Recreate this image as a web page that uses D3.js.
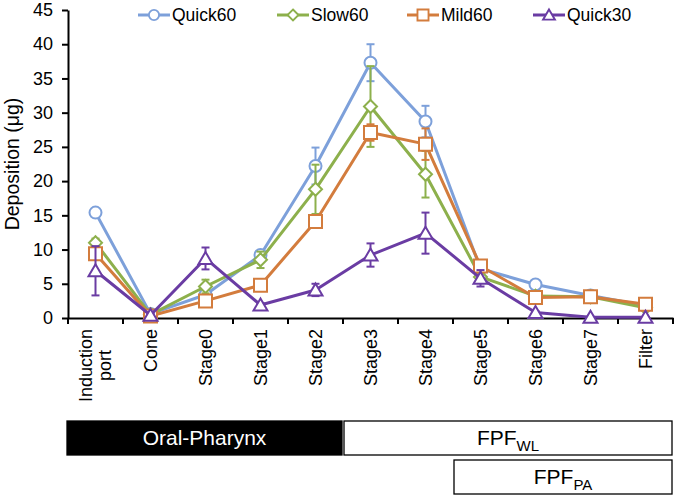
<!DOCTYPE html>
<html>
<head>
<meta charset="utf-8">
<script src="https://cdn.jsdelivr.net/npm/d3@7"></script>
<style>
  body { margin: 0; background: #fff; }
  svg { display: block; font-family: Arial, "Liberation Sans", Helvetica, sans-serif; }
</style>
</head>
<body>
<svg id="chart" width="676" height="496"></svg>
<script>
const categories = ["Induction port","Cone","Stage0","Stage1","Stage2","Stage3","Stage4","Stage5","Stage6","Stage7","Filter"];
const yTicks = [0,5,10,15,20,25,30,35,40,45];
const seriesNames = ["Quick60","Slow60","Mild60","Quick30"];
const quick60 = [15.4,0.6,3.4,9.2,22.2,37.3,28.7,7.2,4.9,3.3,1.8];
const quick60Err = [0.3,0.2,0.3,0.5,2.7,2.7,2.3,0.3,0.6,0.3,0.2];
const slow60 = [11.0,0.5,4.6,8.5,18.8,30.9,21.0,6.0,3.2,3.1,1.5];
const slow60Err = [0.6,0.2,1.0,1.2,3.6,5.9,3.4,0.5,0.4,0.3,0.2];
const mild60 = [9.4,0.3,2.5,4.8,14.1,27.1,25.4,7.6,3.0,3.1,2.0];
const mild60Err = [0.5,0.1,0.3,0.4,0.5,1.2,2.3,0.4,0.3,0.3,0.2];
const quick30 = [6.9,0.4,8.7,1.9,4.1,9.2,12.4,5.8,0.8,0.1,0.1];
const quick30Err = [3.6,0.2,1.6,0.3,0.9,1.7,3.0,1.2,0.2,0.05,0.05];
const yTitle = "Deposition (μg)";
const regions = [
  {label:"Oral-Pharynx", sub:"", from:0, to:4, row:0, dark:true},
  {label:"FPF", sub:"WL", from:5, to:10, row:0, dark:false},
  {label:"FPF", sub:"PA", from:7, to:10, row:1, dark:false}
];

const colors = ["#7DA0DA","#8DB04C","#D37C3D","#6A3CA3"];
const shapes = ["circle","diamond","square","triangle"];
const series = [
  {name:seriesNames[0], values:quick60, err:quick60Err},
  {name:seriesNames[1], values:slow60, err:slow60Err},
  {name:seriesNames[2], values:mild60, err:mild60Err},
  {name:seriesNames[3], values:quick30, err:quick30Err}
];

const svg = d3.select("#chart");
const mLeft = 68, mRight = 673, mTop = 10, mBottom = 318;
const x = d3.scaleBand().domain(categories).range([mLeft, mRight]).padding(0);
const y = d3.scaleLinear().domain([0,45]).range([mBottom, mTop]);
const cx = c => x(c) + x.bandwidth()/2;

function markerPath(shape) {
  switch (shape) {
    case "circle": return d3.symbol(d3.symbolCircle, Math.PI*6*6)();
    case "square": return "M-6.5,-6.5H6.5V6.5H-6.5Z";
    case "diamond": return "M0,-6.5L6.5,0L0,6.5L-6.5,0Z";
    case "triangle": return "M0,-6.5L7,5.5L-7,5.5Z";
  }
}

// Axes
const yAxis = svg.append("g").attr("transform", `translate(${mLeft},0)`)
  .call(d3.axisLeft(y).tickValues(yTicks).tickSize(6).tickSizeOuter(0).tickPadding(9));
yAxis.select(".domain").attr("stroke","#000").attr("stroke-width",2);
yAxis.selectAll(".tick line").attr("stroke","#000").attr("stroke-width",2);
yAxis.selectAll(".tick text").attr("font-size",18).attr("fill","#000")
  .attr("font-family","Arial, 'Liberation Sans', sans-serif");

const xAxis = svg.append("g").attr("transform", `translate(0,${mBottom})`)
  .call(d3.axisBottom(x).tickSize(0).tickSizeOuter(0).tickFormat(""));
xAxis.select(".domain").attr("stroke","#000").attr("stroke-width",2);
xAxis.selectAll(".tick line").remove();
const boundaries = categories.map(c => x(c)).concat([x(categories[categories.length-1]) + x.bandwidth()]);
xAxis.selectAll(".bnd").data(boundaries).enter().append("line")
  .attr("x1", d => d).attr("x2", d => d).attr("y1", 0).attr("y2", 6)
  .attr("stroke","#000").attr("stroke-width",2);

// Category labels (rotated)
categories.forEach(c => {
  const lines = c.split(" ");
  const g = svg.append("g").attr("transform", `translate(${cx(c)},${mBottom+11}) rotate(-90)`);
  const lh = 19;
  const texts = lines.map((ln, i) => g.append("text").text(ln)
    .attr("font-size",18).attr("fill","#000")
    .attr("y", (i - (lines.length-1)/2) * lh)
    .attr("dy","0.35em"));
  const w = d3.max(texts, t => t.node().getComputedTextLength());
  texts.forEach(t => t.attr("x", -w/2).attr("text-anchor","middle"));
});

// Y title
svg.append("text").attr("transform", `translate(19,${(mTop+mBottom)/2}) rotate(-90)`)
  .attr("text-anchor","middle").attr("font-size",19.5).attr("fill","#000").text(yTitle);

// Series
series.forEach((s, si) => {
  const g = svg.append("g");
  const col = colors[si];
  s.values.forEach((v, i) => {
    const e = s.err[i];
    const xx = cx(categories[i]);
    g.append("line").attr("x1",xx).attr("x2",xx).attr("y1",y(v+e)).attr("y2",y(Math.max(0,v-e)))
      .attr("stroke",col).attr("stroke-width",2);
    [v+e, Math.max(0,v-e)].forEach(yy => g.append("line")
      .attr("x1",xx-4).attr("x2",xx+4).attr("y1",y(yy)).attr("y2",y(yy))
      .attr("stroke",col).attr("stroke-width",2));
  });
  g.append("path").datum(s.values)
    .attr("d", d3.line().x((d,i) => cx(categories[i])).y(d => y(d)))
    .attr("fill","none").attr("stroke",col).attr("stroke-width",3).attr("stroke-linejoin","round");
  g.selectAll(".m").data(s.values).enter().append("path")
    .attr("transform", (d,i) => `translate(${cx(categories[i])},${y(d)})`)
    .attr("d", markerPath(shapes[si]))
    .attr("fill","#fff").attr("stroke",col).attr("stroke-width",2);
});

// Legend
const legendX = [138, 277, 407, 533];
series.forEach((s, si) => {
  const g = svg.append("g").attr("transform", `translate(${legendX[si]},15)`);
  g.append("line").attr("x1",0).attr("x2",32).attr("y1",0).attr("y2",0)
    .attr("stroke",colors[si]).attr("stroke-width",3);
  g.append("path").attr("transform","translate(16,0) scale(0.85)").attr("d", markerPath(shapes[si]))
    .attr("fill","#fff").attr("stroke",colors[si]).attr("stroke-width",2.2);
  g.append("text").attr("x",34).attr("dy","0.36em").attr("font-size",17.5).attr("fill","#000").text(s.name);
});

// Region boxes
regions.forEach(r => {
  const x0 = x(categories[r.from]) - (r.from === 0 ? 1 : -1);
  const x1 = x(categories[r.to]) + x.bandwidth() - 1;
  const y0 = 421 + r.row * 39;
  const h = 34;
  svg.append("rect").attr("x", x0).attr("y", y0).attr("width", x1 - x0).attr("height", h)
    .attr("fill", r.dark ? "#000" : "#fff").attr("stroke","#000").attr("stroke-width",1.3);
  const t = svg.append("text").attr("x",(x0+x1)/2).attr("y", y0 + h/2).attr("dy","0.35em")
    .attr("text-anchor","middle").attr("font-size",21).attr("fill", r.dark ? "#fff" : "#000");
  t.append("tspan").text(r.label);
  if (r.sub) t.append("tspan").attr("font-size",15).attr("dy","0.4em").text(r.sub);
});
</script>
</body>
</html>
